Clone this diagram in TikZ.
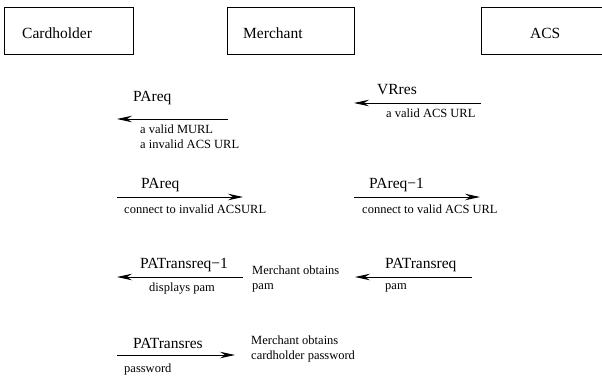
\documentclass[tikz,border=0pt]{standalone}
\usepackage{fontspec}
\setmainfont{Liberation Serif}
\usetikzlibrary{arrows.meta}
\begin{document}
\begin{tikzpicture}[x=1pt,y=-1pt,
  party/.style={draw,line width=0.9pt,inner sep=0pt,anchor=north west},
  big/.style={inner sep=0pt,anchor=west,font=\fontsize{15.5}{18}\selectfont},
  small/.style={inner sep=0pt,anchor=west,align=left,font=\fontsize{12.5}{14.5}\selectfont},
  msg/.style={line width=0.9pt,-{Stealth[length=15pt,width=6.5pt,inset=5pt]}}]
\useasboundingbox (0,0) rectangle (602,376);
% participants
\node[party,minimum width=129pt,minimum height=47pt] (ch) at (4,7) {};
\node[party,minimum width=127pt,minimum height=47pt] (me) at (227,7) {};
\node[party,minimum width=126pt,minimum height=47pt] (acs) at (481,7) {};
\node[big] (chl) at (22,33) {Cardholder};
\node[big] (mel) at (243,33) {Merchant};
\node[big] (acsl) at (530,33) {ACS};
% arrow end points
\coordinate (a1s) at (228,119); \coordinate (a1e) at (117,119);
\coordinate (a2s) at (481,103); \coordinate (a2e) at (354,103);
\coordinate (a3s) at (117,197); \coordinate (a3e) at (243,197);
\coordinate (a4s) at (354,197); \coordinate (a4e) at (480,197);
\coordinate (a5s) at (243,277); \coordinate (a5e) at (117,277);
\coordinate (a6s) at (472,277); \coordinate (a6e) at (355,277);
\coordinate (a7s) at (117,355); \coordinate (a7e) at (235,355);
\draw[msg] (a1s) -- (a1e);
\draw[msg] (a2s) -- (a2e);
\draw[msg] (a3s) -- (a3e);
\draw[msg] (a4s) -- (a4e);
\draw[msg] (a5s) -- (a5e);
\draw[msg] (a6s) -- (a6e);
\draw[msg] (a7s) -- (a7e);
% row 1
\node[big] (m1) at (133,98) {PAreq};
\node[small,anchor=north west] (n1) at (140,125) {a valid MURL\\a invalid ACS URL};
\node[big] (m2) at (377,90) {VRres};
\node[small] (n2) at (386,113) {a valid ACS URL};
% row 2
\node[big] (m3) at (141,185) {PAreq};
\node[small] (n3) at (124,209) {connect to invalid ACSURL};
\node[big] (m4) at (369,185) {PAreq−1};
\node[small] (n4) at (362,209) {connect to valid ACS URL};
% row 3
\node[big] (m5) at (140,265) {PATransreq−1};
\node[small] (n5) at (149,289) {displays pam};
\node[small,anchor=north west] (k5) at (252,266) {Merchant obtains\\pam};
\node[big] (m6) at (385,265) {PATransreq};
\node[small] (n6) at (385,288) {pam};
% row 4
\node[big] (m7) at (133,343) {PATransres};
\node[small] (n7) at (124,369) {password};
\node[small,anchor=north west] (k7) at (251,336) {Merchant obtains\\cardholder password};
\end{tikzpicture}
\end{document}
